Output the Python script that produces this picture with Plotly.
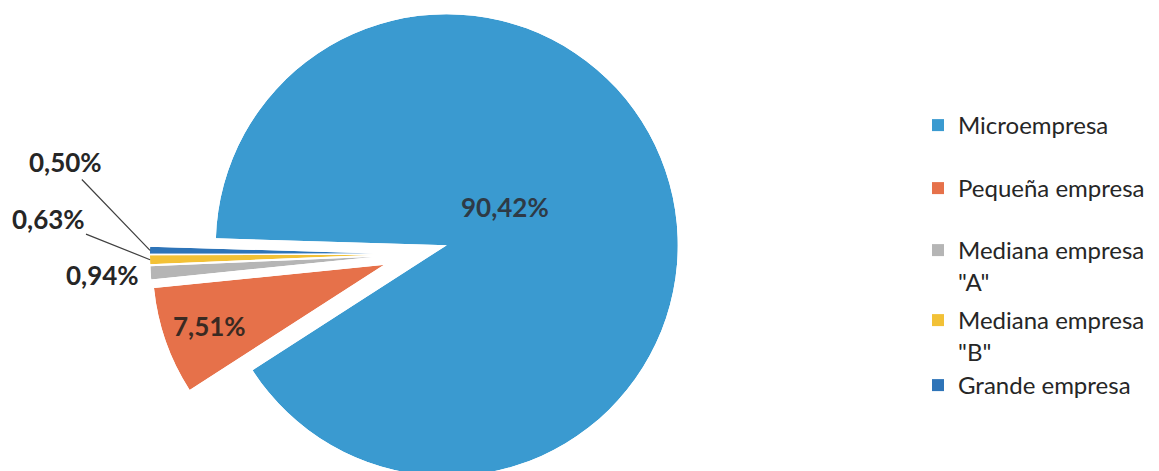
import math
import plotly.graph_objects as go

# ---------------- data ----------------
categories = ["Microempresa", "Pequeña empresa", 'Mediana empresa "A"',
              'Mediana empresa "B"', "Grande empresa"]
legend_names = ["Microempresa", "Pequeña empresa", 'Mediana empresa<br>"A"',
                'Mediana empresa<br>"B"', "Grande empresa"]
shares = [90.42, 7.51, 0.94, 0.63, 0.50]
value_labels = ["90,42%", "7,51%", "0,94%", "0,63%", "0,50%"]

# ---------------- style / layout ----------------
colors = ["#3A9AD0", "#E6714A", "#B5B5B5", "#F2C136", "#2E74B8"]
W, H = 1159, 471
PAGE = 8                 # page margin of the html body (px)
START = 178.3            # start angle of first slice (deg, ccw from east); slices run clockwise
C0 = (415.0, 254.0)      # un-exploded pie centre (screen px)
explode = [33, 33, 40, 40, 40]   # explosion distance of each slice (px)
radius = [231, 231, 225, 225, 225]
legend_rows = [125, 188, 250, 320, 385]   # screen y of the first text line of each legend entry
label_font = dict(family="Lato", size=26, color="#262626")
legend_font = dict(family="Lato", size=24, color="#262626")


def sector_bbox(s0, s1):
    arc = s1 - s0
    a0 = s0 % 360
    a1 = a0 + arc
    ax0, ay0 = math.cos(math.radians(a0)), math.sin(math.radians(a0))
    ax1, ay1 = math.cos(math.radians(a1)), math.sin(math.radians(a1))
    if (a0 <= 90 and a1 >= 90) or (a0 > 90 and a1 >= 450):
        y1 = 1
    elif ay0 <= 0 and ay1 <= 0:
        y1 = 0
    else:
        y1 = max(ay0, ay1)
    if (a0 <= 180 and a1 >= 180) or (a0 > 180 and a1 >= 540):
        x0 = -1
    elif ax0 >= 0 and ax1 >= 0:
        x0 = 0
    else:
        x0 = min(ax0, ax1)
    if (a0 <= 270 and a1 >= 270) or (a0 > 270 and a1 >= 630):
        y0 = -1
    elif ay0 >= 0 and ay1 >= 0:
        y0 = 0
    else:
        y0 = min(ay0, ay1)
    if a1 >= 360:
        x1 = 1
    elif ax0 <= 0 and ax1 <= 0:
        x1 = 0
    else:
        x1 = max(ax0, ax1)
    return x0, y0, x1, y1


def clamp(v):
    return min(1.0, max(0.0, v))


def fx(px):   # screen px -> figure px
    return px - PAGE


def fy(py):
    return py - PAGE


def to_paper(px, py):
    return fx(px) / W, 1 - fy(py) / H


total = sum(shares)
fig = go.Figure()
layout_extra = {}
geo = []
cur = START
for i, (cat, name, val, col) in enumerate(zip(categories, legend_names, shares, colors)):
    span = 360.0 * val / total
    s_start = cur
    s_end = cur - span
    cur = s_end
    mid = (s_start + s_end) / 2.0
    cx = C0[0] + explode[i] * math.cos(math.radians(mid))
    cy = C0[1] - explode[i] * math.sin(math.radians(mid))
    r = radius[i]
    geo.append((cx, cy, r, mid))
    bx0, by0, bx1, by1 = sector_bbox(s_end, s_start)
    left, right = fx(cx + r * bx0), fx(cx + r * bx1)
    top, bottom = fy(cy - r * by1), fy(cy - r * by0)
    key = "polar" if i == 0 else f"polar{i + 1}"
    lkey = "legend" if i == 0 else f"legend{i + 1}"
    layout_extra[key] = dict(
        domain=dict(x=[clamp(left / W), clamp(right / W)],
                    y=[clamp(1 - bottom / H), clamp(1 - top / H)]),
        sector=[s_end, s_start],
        bgcolor="rgba(0,0,0,0)",
        radialaxis=dict(visible=False, range=[0, 1]),
        angularaxis=dict(visible=False, rotation=0, direction="counterclockwise"),
    )
    layout_extra[lkey] = dict(
        x=fx(918) / W, y=1 - fy(legend_rows[i] - 22) / H, xanchor="left", yanchor="top",
        font=legend_font, valign="top", itemwidth=30,
        bgcolor="rgba(0,0,0,0)", borderwidth=0,
    )
    fig.add_trace(go.Barpolar(
        r=[1], theta=[mid], width=[span],
        marker=dict(color=col, line=dict(width=0)),
        name=name, legend=lkey, subplot=key,
        hovertemplate=f"{cat}: {value_labels[i]}<extra></extra>",
    ))

annotations = []
# 90,42% inside the big slice
x, y = to_paper(505, 207)
annotations.append(dict(x=x, y=y, xref="paper", yref="paper", xanchor="center", yanchor="middle",
                        text=f"<b>{value_labels[0]}</b>", showarrow=False,
                        font=dict(family="Lato", size=26, color="#2E3A46")))
# 7,51% inside the orange slice, along its mid angle
cx, cy, r, mid = geo[1]
px = cx + 0.80 * r * math.cos(math.radians(mid))
py = cy - 0.80 * r * math.sin(math.radians(mid))
x, y = to_paper(px, py)
annotations.append(dict(x=x, y=y, xref="paper", yref="paper", xanchor="center", yanchor="middle",
                        text=f"<b>{value_labels[1]}</b>", showarrow=False,
                        font=dict(family="Lato", size=26, color="#3A2A22")))
# 0,94% outside, no leader
x, y = to_paper(102, 275)
annotations.append(dict(x=x, y=y, xref="paper", yref="paper", xanchor="center", yanchor="middle",
                        text=f"<b>{value_labels[2]}</b>", showarrow=False, font=label_font))
# 0,63% and 0,50% with leader lines to the outer edge of their slices
for i, (lx, ly) in [(3, (48, 219)), (4, (65, 162))]:
    cx, cy, r, mid = geo[i]
    tx = cx + r * math.cos(math.radians(mid))
    ty = cy - r * math.sin(math.radians(mid))
    x, y = to_paper(tx, ty)
    annotations.append(dict(x=x, y=y, xref="paper", yref="paper", text=f"<b>{value_labels[i]}</b>",
                            showarrow=True, arrowhead=0, arrowwidth=1.2, arrowcolor="#404040",
                            ax=lx - tx, ay=ly - ty, axref="pixel", ayref="pixel",
                            standoff=0, font=label_font))

fig.update_layout(
    width=W, height=H,
    margin=dict(l=0, r=0, t=0, b=0, pad=0),
    paper_bgcolor="white", plot_bgcolor="white",
    template="none",
    font=dict(family="Lato", color="#262626"),
    showlegend=True,
    annotations=annotations,
    **layout_extra,
)

fig.write_html("out.html")
